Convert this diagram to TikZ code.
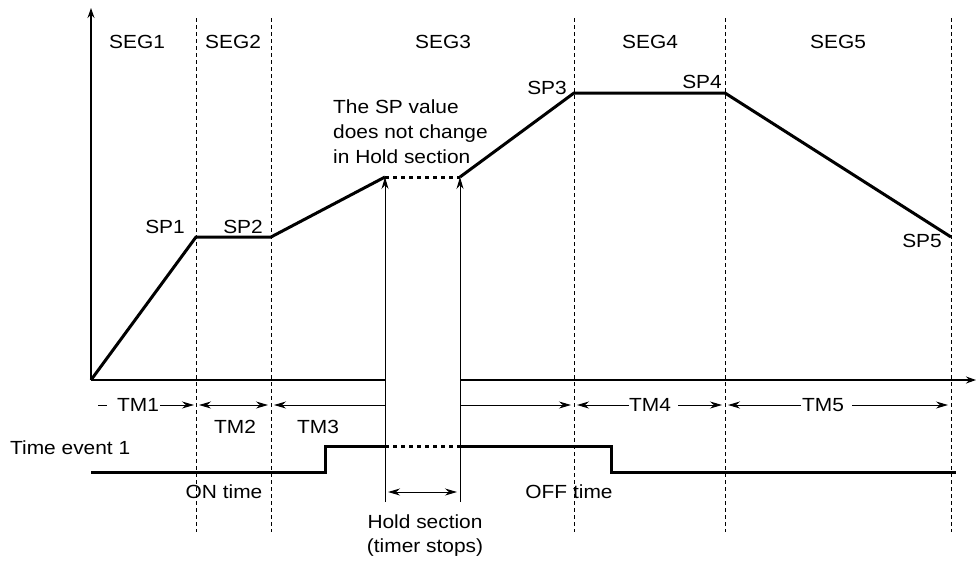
\documentclass[tikz,border=0pt]{standalone}
\usepackage{fontspec}
\setmainfont[FakeStretch=1.1]{Liberation Sans}
\usetikzlibrary{arrows.meta}
\begin{document}
\begin{tikzpicture}[x=1pt,y=-1pt,
  font=\fontsize{19}{25}\selectfont,
  >={Stealth[length=12pt,width=7pt]},
  segline/.style={line width=0.9pt, dash pattern=on 4pt off 3pt},
  prof/.style={line width=3pt, line join=miter},
  holddot/.style={line width=3pt, dash pattern=on 4pt off 4pt},
  axis/.style={line width=1.3pt, -{Stealth[length=10pt,width=7pt]}},
  dim/.style={line width=1pt},
  lbl/.style={inner sep=0pt}
]
\useasboundingbox (0,0) rectangle (976,560);

% segment boundaries
\foreach \n/\x in {a/196,b/271,c/574,d/725,e/951}{
  \coordinate (top\n) at (\x,18);
  \coordinate (bot\n) at (\x,532);
  \draw[segline] (top\n) -- (bot\n);
}

% axes
\coordinate (O) at (91,380);
\coordinate (ytop) at (91,8);
\coordinate (hl) at (385,380);
\coordinate (hr) at (460,380);
\coordinate (xend) at (976,380);
\draw[axis] (O) -- (ytop);
\draw[line width=1.3pt] (O) -- (hl);
\draw[axis] (hr) -- (xend);

% SP profile
\coordinate (p1) at (196,237);
\coordinate (p2) at (271,237);
\coordinate (p3) at (385,177);
\coordinate (p4) at (460,177);
\coordinate (p5) at (574,93);
\coordinate (p6) at (725,93);
\coordinate (p7) at (951,237);
\draw[prof] (O) -- (p1) -- (p2) -- (p3);
\draw[holddot] (p3) -- (p4);
\draw[prof] (p4) -- (p5) -- (p6) -- (p7);

% hold markers
\coordinate (hb1) at (385,502);
\coordinate (hb2) at (460,502);
\draw[dim,->] (hb1) -- (p3);
\draw[dim,->] (hb2) -- (p4);

% labels
\node[lbl] (seg1) at (137,42) {SEG1};
\node[lbl] (seg2) at (233,42) {SEG2};
\node[lbl] (seg3) at (443,42) {SEG3};
\node[lbl] (seg4) at (650,42) {SEG4};
\node[lbl] (seg5) at (838,42) {SEG5};
\node[lbl] (sp1) at (165,227) {SP1};
\node[lbl] (sp2) at (243,227) {SP2};
\node[lbl] (sp3) at (547,88) {SP3};
\node[lbl] (sp4) at (702,82) {SP4};
\node[lbl] (sp5) at (922,241) {SP5};
\node[lbl,anchor=west,align=left] (note) at (333,132) {The SP value\\does not change\\in Hold section};

% time arrows
\coordinate (t1a) at (98,405);
\coordinate (t1b) at (107,405);
\node[lbl] (tm1) at (138,405) {TM1};
\coordinate (t1c) at (160,405);
\coordinate (t1d) at (194,405);
\draw[dim] (t1a) -- (t1b);
\draw[dim,->] (t1c) -- (t1d);

\coordinate (t2a) at (199,405);
\coordinate (t2b) at (268,405);
\draw[dim,<->] (t2a) -- (t2b);
\node[lbl] (tm2) at (235,427) {TM2};

\coordinate (t3a) at (274,405);
\coordinate (t3b) at (385,405);
\coordinate (t3c) at (460,405);
\coordinate (t3d) at (571,405);
\draw[dim,->] (t3b) -- (t3a);
\draw[dim,->] (t3c) -- (t3d);
\node[lbl] (tm3) at (318,427) {TM3};

\coordinate (t4a) at (577,405);
\coordinate (t4b) at (629,405);
\node[lbl] (tm4) at (650,405) {TM4};
\coordinate (t4c) at (678,405);
\coordinate (t4d) at (722,405);
\draw[dim,->] (t4b) -- (t4a);
\draw[dim,->] (t4c) -- (t4d);

\coordinate (t5a) at (728,405);
\coordinate (t5b) at (801,405);
\node[lbl] (tm5) at (823,405) {TM5};
\coordinate (t5c) at (852,405);
\coordinate (t5d) at (948,405);
\draw[dim,->] (t5b) -- (t5a);
\draw[dim,->] (t5c) -- (t5d);

% time event signal
\node[lbl,anchor=west] (te) at (10,448) {Time event 1};
\coordinate (s0) at (91,472);
\coordinate (s1) at (325,472);
\coordinate (s2) at (325,446);
\coordinate (s3) at (385,446);
\coordinate (s4) at (460,446);
\coordinate (s5) at (611,446);
\coordinate (s6) at (611,472);
\coordinate (s7) at (956,472);
\draw[prof] (s0) -- (s1) -- (s2) -- (s3);
\draw[holddot] (s3) -- (s4);
\draw[prof] (s4) -- (s5) -- (s6) -- (s7);

\node[lbl] (on) at (224,492) {ON time};
\node[lbl] (off) at (569,492) {OFF time};

\coordinate (ha) at (388,492);
\coordinate (hb) at (457,492);
\draw[dim,<->] (ha) -- (hb);
\node[lbl] (hold1) at (425,522) {Hold section};
\node[lbl] (hold2) at (425,548) {(timer stops)};
\end{tikzpicture}
\end{document}
